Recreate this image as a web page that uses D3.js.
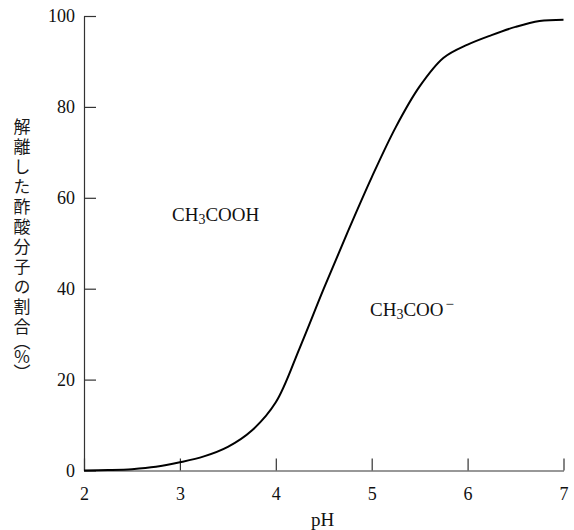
<!DOCTYPE html>
<html>
<head>
<meta charset="utf-8">
<script src="https://cdn.jsdelivr.net/npm/d3@7"></script>
<style>
  html, body { margin: 0; padding: 0; background: #fff; }
  svg { display: block; }
  .serif { font-family: "Liberation Serif", "DejaVu Serif", serif; }
</style>
</head>
<body>
<svg id="chart" width="574" height="530"></svg>
<script>
// ---- data ----
const pH =      [2.0, 2.25, 2.5, 2.75, 3.0, 3.25, 3.5, 3.75, 4.0, 4.25, 4.5, 4.75, 5.0, 5.25, 5.5, 5.75, 6.0, 6.25, 6.5, 6.75, 7.0];
const percent = [0.0, 0.1,  0.3, 0.8,  1.8, 3.1,  5.2, 8.8,  15.0, 27.0, 40.0, 52.5, 64.5, 75.5, 84.5, 90.8, 93.7, 95.8, 97.6, 98.9, 99.2];
const xTicks = [2, 3, 4, 5, 6, 7];
const yTicks = [0, 20, 40, 60, 80, 100];
const xTitle = "pH";
const yTitleMain = "解離した酢酸分子の割合";
const yTitleUnit = "（％）";

const svg = d3.select("#chart");
const x = d3.scaleLinear().domain([2, 7]).range([84, 563.5]);
const y = d3.scaleLinear().domain([0, 100]).range([470.5, 16]);

const axisColor = "#333";

// y axis
const gy = svg.append("g").attr("transform", `translate(${x(2)},0)`)
  .call(d3.axisLeft(y).tickValues(yTicks).tickSize(-12).tickSizeOuter(0).tickPadding(9).tickFormat(d3.format("d")));
gy.select(".domain").attr("stroke", axisColor).attr("stroke-width", 1.2);
gy.selectAll(".tick line").attr("stroke", axisColor).attr("stroke-width", 1.2);
gy.selectAll(".tick text").attr("class", "serif").attr("font-size", 18).attr("fill", "#111");

// x axis
const gx = svg.append("g").attr("transform", `translate(0,${y(0)})`)
  .call(d3.axisBottom(x).tickValues(xTicks).tickSize(-12).tickSizeOuter(0).tickPadding(17).tickFormat(d3.format("d")));
gx.select(".domain").attr("stroke", axisColor).attr("stroke-width", 1.2);
gx.selectAll(".tick line").attr("stroke", axisColor).attr("stroke-width", 1.2);
gx.selectAll(".tick text").attr("class", "serif").attr("font-size", 18).attr("fill", "#111");

// curve
const pts = pH.map((v, i) => [v, percent[i]]);
svg.append("path")
  .datum(pts)
  .attr("fill", "none")
  .attr("stroke", "#000")
  .attr("stroke-width", 2)
  .attr("d", d3.line().x(d => x(d[0])).y(d => y(d[1])).curve(d3.curveCatmullRom.alpha(0.5)));

// x title
svg.append("text").attr("class", "serif")
  .attr("x", 322.5).attr("y", 526)
  .attr("text-anchor", "middle").attr("font-size", 19).attr("fill", "#111")
  .text(xTitle);

// y title: vertical writing
const yt = svg.append("text")
  .attr("x", 22).attr("y", 118.5)
  .attr("font-family", "'Noto Sans CJK JP', sans-serif")
  .attr("font-size", 17)
  .attr("fill", "#1a1a1a")
  .style("writing-mode", "vertical-rl")
  .style("text-orientation", "mixed")
  .style("letter-spacing", "3px");
yt.append("tspan").text(yTitleMain);
yt.append("tspan").attr("dy", 2)
  .style("font-feature-settings", "'vpal'")
  .style("letter-spacing", "0px")
  .text(yTitleUnit);

// species labels
function formula(xp, yp, parts) {
  const t = svg.append("text").attr("class", "serif")
    .attr("x", xp).attr("y", yp).attr("font-size", 19).attr("fill", "#111");
  parts.forEach(p => {
    const ts = t.append("tspan").text(p.t);
    if (p.sub) ts.attr("font-size", 14).attr("dy", 3);
    if (p.after) ts.attr("dy", -3);
    if (p.sup) ts.attr("font-size", 15).attr("dy", -7).attr("dx", 2);
  });
}
formula(172, 221, [{t: "CH"}, {t: "3", sub: true}, {t: "COOH", after: true}]);
formula(370, 316, [{t: "CH"}, {t: "3", sub: true}, {t: "COO", after: true}, {t: "−", sup: true}]);
</script>
</body>
</html>
